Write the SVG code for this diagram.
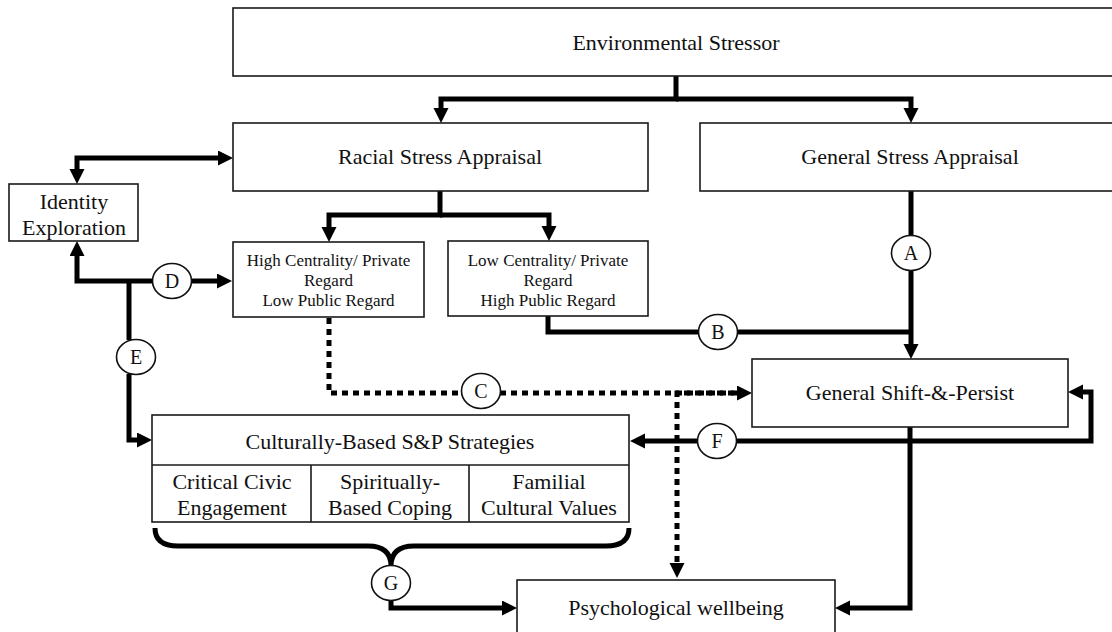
<svg xmlns="http://www.w3.org/2000/svg" width="1112" height="632" viewBox="0 0 1112 632">
<style>
.box{fill:#fff;stroke:#1a1a1a;stroke-width:1.6}
.t{font-family:"Liberation Serif","Times New Roman",serif;font-size:22px;fill:#111;text-anchor:middle}
.s{font-size:17px}
.c{font-size:20px}
.ln{fill:none;stroke:#000;stroke-width:5}
.dot{fill:none;stroke:#000;stroke-width:5;stroke-dasharray:6 5}
.circ{fill:#fff;stroke:#111;stroke-width:1.6}
</style>
<defs>
<marker id="ah" markerUnits="userSpaceOnUse" markerWidth="16" markerHeight="16" refX="0" refY="7.5" orient="auto-start-reverse" viewBox="0 0 16 16">
<path d="M0,0 L15,7.5 L0,15 z" fill="#000"/>
</marker>
</defs>
<rect width="1112" height="632" fill="#fff"/>
<g id="connectors">
<path class="ln" d="M676,76 V99 H441 V108" marker-end="url(#ah)"/>
<path class="ln" d="M676,99 H911 V108" marker-end="url(#ah)"/>
<path class="ln" d="M440,191 V215 H329 V227" marker-end="url(#ah)"/>
<path class="ln" d="M440,215 H549 V226" marker-end="url(#ah)"/>
<path class="ln" d="M77,169 V158 H218" marker-start="url(#ah)" marker-end="url(#ah)"/>
<path class="ln" d="M77,256 V281 H153" marker-start="url(#ah)"/>
<path class="ln" d="M191,281 H217" marker-end="url(#ah)"/>
<path class="ln" d="M129,281 V340"/>
<path class="ln" d="M129,374 V440 H137" marker-end="url(#ah)"/>
<path class="ln" d="M911,191 V236"/>
<path class="ln" d="M911,270 V344" marker-end="url(#ah)"/>
<path class="ln" d="M548,316 V332 H699"/>
<path class="ln" d="M737,332 H911"/>
<path class="ln" d="M736,441 H1091 V392 H1083" marker-end="url(#ah)"/>
<path class="ln" d="M698,441 H645" marker-end="url(#ah)"/>
<path class="ln" d="M910,427 V608 H850" marker-end="url(#ah)"/>
<path class="ln" d="M155,528 Q155,546 178,546 H368 Q391,546 391,566 Q391,546 414,546 H606 Q629,546 629,528"/>
<path class="ln" d="M391,600 V608 H502" marker-end="url(#ah)"/>
<path class="dot" d="M329,318 V393 H462"/>
<path class="dot" d="M500,393 H737" marker-end="url(#ah)"/>
<path class="dot" d="M745,393 H677 V563" marker-end="url(#ah)"/>
</g>
<g id="env"><rect class="box" x="233" y="8" width="886" height="68"/><text class="t" x="676" y="50">Environmental Stressor</text></g>
<g id="racial"><rect class="box" x="233" y="123" width="415" height="68"/><text class="t" x="440" y="164">Racial Stress Appraisal</text></g>
<g id="general"><rect class="box" x="700" y="123" width="420" height="68"/><text class="t" x="910" y="164">General Stress Appraisal</text></g>
<g id="identity"><rect class="box" x="9" y="184" width="129" height="57"/><text class="t" x="74" y="209">Identity</text><text class="t" x="74" y="235">Exploration</text></g>
<g id="high"><rect class="box" x="233" y="242" width="191" height="75"/><text class="t s" x="328.5" y="266">High Centrality/ Private</text><text class="t s" x="328.5" y="286">Regard</text><text class="t s" x="328.5" y="306">Low Public Regard</text></g>
<g id="low"><rect class="box" x="448" y="241" width="200" height="75"/><text class="t s" x="548" y="266">Low Centrality/ Private</text><text class="t s" x="548" y="286">Regard</text><text class="t s" x="548" y="306">High Public Regard</text></g>
<g id="shift"><rect class="box" x="752" y="359" width="316" height="68"/><text class="t" x="910" y="400">General Shift-&amp;-Persist</text></g>
<g id="cultural"><rect class="box" x="152" y="415" width="477" height="107"/><line x1="152" y1="465" x2="629" y2="465" stroke="#1a1a1a" stroke-width="1.6"/><line x1="311" y1="465" x2="311" y2="522" stroke="#1a1a1a" stroke-width="1.6"/><line x1="469" y1="465" x2="469" y2="522" stroke="#1a1a1a" stroke-width="1.6"/>
<text class="t" x="390" y="449">Culturally-Based S&amp;P Strategies</text>
<text class="t" x="232" y="489">Critical Civic</text><text class="t" x="232" y="515">Engagement</text>
<text class="t" x="390" y="489">Spiritually-</text><text class="t" x="390" y="515">Based Coping</text>
<text class="t" x="549" y="489">Familial</text><text class="t" x="549" y="515">Cultural Values</text></g>
<g id="psych"><rect class="box" x="517" y="580" width="318" height="60"/><text class="t" x="676" y="615">Psychological wellbeing</text></g>
<g id="labelA"><ellipse class="circ" cx="911" cy="253" rx="19.5" ry="17.5"/><text class="t c" x="911" y="260">A</text></g>
<g id="labelB"><ellipse class="circ" cx="718" cy="332" rx="19.5" ry="17.5"/><text class="t c" x="718" y="339">B</text></g>
<g id="labelC"><ellipse class="circ" cx="481" cy="391" rx="19.5" ry="17.5"/><text class="t c" x="481" y="398">C</text></g>
<g id="labelD"><ellipse class="circ" cx="172" cy="281" rx="19.5" ry="17.5"/><text class="t c" x="172" y="288">D</text></g>
<g id="labelE"><ellipse class="circ" cx="136" cy="357" rx="19.5" ry="17.5"/><text class="t c" x="136" y="364">E</text></g>
<g id="labelF"><ellipse class="circ" cx="717" cy="441" rx="19.5" ry="17.5"/><text class="t c" x="717" y="448">F</text></g>
<g id="labelG"><ellipse class="circ" cx="391" cy="583" rx="19.5" ry="17.5"/><text class="t c" x="391" y="590">G</text></g>
</svg>
